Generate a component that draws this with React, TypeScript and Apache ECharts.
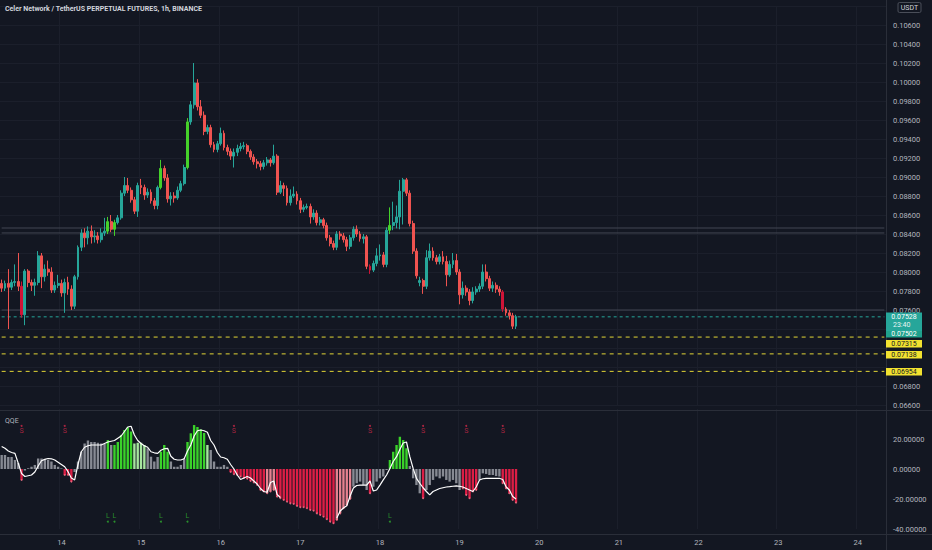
import React, { useEffect, useRef } from "react";
import * as echarts from "echarts";

// ---------- DATA ----------
// hourly candles starting 13th 06:00, [open, close, low, high]
const candles: [number, number, number, number][] = [
  [0.0788, 0.0783, 0.0779, 0.0792], [0.0783, 0.0788, 0.078, 0.0791], [0.0788, 0.0784, 0.074, 0.0803], [0.0784, 0.0789, 0.0781, 0.0792],
  [0.0789, 0.079, 0.0785, 0.0808], [0.079, 0.0785, 0.078, 0.082], [0.0785, 0.0755, 0.0752, 0.079], [0.0755, 0.0801, 0.0744, 0.0803],
  [0.0801, 0.0789, 0.0784, 0.0803], [0.0789, 0.0786, 0.078, 0.0792], [0.0786, 0.0789, 0.0775, 0.0793], [0.0789, 0.0817, 0.0786, 0.0822],
  [0.0817, 0.0795, 0.0783, 0.082], [0.0795, 0.0803, 0.079, 0.0808], [0.0803, 0.08, 0.0796, 0.0812], [0.08, 0.0781, 0.0778, 0.0805],
  [0.0781, 0.0786, 0.0778, 0.079], [0.0786, 0.0788, 0.0783, 0.0797], [0.0788, 0.0778, 0.0774, 0.0792], [0.0778, 0.0789, 0.0757, 0.0793],
  [0.0789, 0.0782, 0.0776, 0.0795], [0.0782, 0.0764, 0.076, 0.0786], [0.0764, 0.0795, 0.0761, 0.0797], [0.0795, 0.0826, 0.0792, 0.0828],
  [0.0826, 0.0841, 0.0822, 0.0845], [0.0841, 0.0836, 0.0826, 0.0846], [0.0836, 0.0843, 0.0829, 0.0848], [0.0843, 0.0837, 0.083, 0.0849],
  [0.0837, 0.0838, 0.0831, 0.0844], [0.0838, 0.0834, 0.083, 0.0842], [0.0834, 0.0841, 0.0831, 0.0846], [0.0841, 0.0843, 0.0838, 0.0857],
  [0.0843, 0.0853, 0.084, 0.0858], [0.0853, 0.0845, 0.0842, 0.086], [0.0845, 0.0852, 0.0838, 0.0855], [0.0852, 0.0857, 0.085, 0.086],
  [0.0857, 0.0883, 0.0855, 0.0886], [0.0883, 0.0891, 0.088, 0.09], [0.0891, 0.0886, 0.0883, 0.0899], [0.0886, 0.0876, 0.0873, 0.0889],
  [0.0876, 0.0864, 0.0861, 0.0879], [0.0864, 0.0891, 0.0858, 0.0894], [0.0891, 0.0889, 0.0882, 0.0898], [0.0889, 0.0881, 0.0876, 0.0892],
  [0.0881, 0.0884, 0.0878, 0.0888], [0.0884, 0.0875, 0.0872, 0.0887], [0.0875, 0.087, 0.0866, 0.0878], [0.087, 0.0889, 0.0866, 0.0891],
  [0.0889, 0.0909, 0.0887, 0.0918], [0.0909, 0.0899, 0.0896, 0.0912], [0.0899, 0.0877, 0.0873, 0.0903], [0.0877, 0.088, 0.087, 0.0884],
  [0.088, 0.0878, 0.0873, 0.0884], [0.0878, 0.0886, 0.0876, 0.089], [0.0886, 0.0893, 0.0884, 0.0896], [0.0893, 0.091, 0.0891, 0.0913],
  [0.091, 0.0958, 0.0908, 0.0962], [0.0958, 0.0976, 0.0955, 0.098], [0.0976, 0.0999, 0.0972, 0.102], [0.0999, 0.0974, 0.097, 0.1003],
  [0.0974, 0.0965, 0.0962, 0.0981], [0.0965, 0.0948, 0.0944, 0.0969], [0.0948, 0.0952, 0.0945, 0.0955], [0.0952, 0.0934, 0.0931, 0.0955],
  [0.0934, 0.0929, 0.0926, 0.0937], [0.0929, 0.0935, 0.0926, 0.0938], [0.0935, 0.0946, 0.0933, 0.0952], [0.0946, 0.0931, 0.0928, 0.0949],
  [0.0931, 0.0927, 0.0923, 0.0934], [0.0927, 0.0922, 0.0918, 0.093], [0.0922, 0.0926, 0.091, 0.093], [0.0926, 0.093, 0.0922, 0.0934],
  [0.093, 0.0932, 0.0927, 0.0936], [0.0932, 0.0933, 0.0929, 0.0937], [0.0933, 0.0927, 0.0924, 0.0935], [0.0927, 0.0921, 0.0918, 0.0929],
  [0.0921, 0.0916, 0.0913, 0.0924], [0.0916, 0.0914, 0.0909, 0.0919], [0.0914, 0.0911, 0.0907, 0.0917], [0.0911, 0.0915, 0.0908, 0.0918],
  [0.0915, 0.0918, 0.0912, 0.0921], [0.0918, 0.0915, 0.0911, 0.092], [0.0915, 0.0922, 0.0913, 0.0934], [0.0922, 0.0884, 0.0881, 0.0924],
  [0.0884, 0.0891, 0.0882, 0.0896], [0.0891, 0.0888, 0.088, 0.0894], [0.0888, 0.0873, 0.087, 0.0891], [0.0873, 0.088, 0.087, 0.0887],
  [0.088, 0.0882, 0.0878, 0.089], [0.0882, 0.0875, 0.0871, 0.0885], [0.0875, 0.0866, 0.0862, 0.0878], [0.0866, 0.0868, 0.0863, 0.0871],
  [0.0868, 0.0869, 0.0866, 0.0872], [0.0869, 0.0858, 0.0851, 0.0872], [0.0858, 0.0862, 0.0855, 0.0866], [0.0862, 0.0852, 0.0849, 0.0865],
  [0.0852, 0.0855, 0.0849, 0.0858], [0.0855, 0.0849, 0.0846, 0.0857], [0.0849, 0.0836, 0.0833, 0.0852], [0.0836, 0.083, 0.0827, 0.0839],
  [0.083, 0.0826, 0.0823, 0.0833], [0.0826, 0.084, 0.0823, 0.0843], [0.084, 0.0838, 0.0834, 0.0843], [0.0838, 0.0834, 0.0831, 0.0841],
  [0.0834, 0.0827, 0.0822, 0.0837], [0.0827, 0.0836, 0.0824, 0.0839], [0.0836, 0.0845, 0.0833, 0.0848], [0.0845, 0.084, 0.0837, 0.0849],
  [0.084, 0.0835, 0.0832, 0.0843], [0.0835, 0.0837, 0.083, 0.084], [0.0837, 0.0806, 0.0803, 0.0839], [0.0806, 0.0802, 0.0798, 0.0808],
  [0.0802, 0.0809, 0.08, 0.0812], [0.0809, 0.0817, 0.0806, 0.0825], [0.0817, 0.0818, 0.0812, 0.0829], [0.0818, 0.0808, 0.0805, 0.0821],
  [0.0808, 0.0844, 0.0805, 0.0847], [0.0844, 0.0849, 0.084, 0.0868], [0.0849, 0.0852, 0.0844, 0.0874], [0.0852, 0.0858, 0.0846, 0.087],
  [0.0858, 0.0885, 0.0845, 0.0897], [0.0885, 0.0897, 0.085, 0.0899], [0.0897, 0.0883, 0.088, 0.0899], [0.0883, 0.0851, 0.0848, 0.0886],
  [0.0851, 0.0822, 0.0819, 0.0854], [0.0822, 0.0796, 0.0793, 0.0825], [0.0789, 0.0791, 0.0785, 0.0795], [0.0791, 0.0785, 0.0777, 0.0793],
  [0.0785, 0.0815, 0.0782, 0.0823], [0.0815, 0.0822, 0.0812, 0.083], [0.0822, 0.0815, 0.0812, 0.0826], [0.0815, 0.0811, 0.0808, 0.0818],
  [0.0811, 0.0816, 0.0808, 0.0819], [0.0816, 0.0811, 0.0808, 0.0822], [0.0811, 0.0797, 0.0785, 0.0817], [0.0797, 0.0808, 0.0795, 0.0812],
  [0.0808, 0.0812, 0.0804, 0.082], [0.0812, 0.08, 0.0797, 0.0819], [0.08, 0.0776, 0.0766, 0.0803], [0.0776, 0.0783, 0.0772, 0.079],
  [0.0783, 0.0779, 0.0775, 0.0786], [0.0779, 0.077, 0.0765, 0.0782], [0.077, 0.0779, 0.0767, 0.0784], [0.0779, 0.0782, 0.0776, 0.0785],
  [0.0782, 0.0785, 0.0779, 0.0788], [0.0785, 0.08, 0.0782, 0.0808], [0.08, 0.0793, 0.079, 0.0808], [0.0793, 0.0783, 0.078, 0.0796],
  [0.0783, 0.0786, 0.0779, 0.079], [0.0786, 0.0782, 0.0778, 0.0789], [0.0782, 0.0779, 0.0775, 0.0785], [0.0779, 0.0761, 0.0758, 0.0781],
  [0.0761, 0.0757, 0.0754, 0.0763], [0.0757, 0.0754, 0.075, 0.076], [0.0754, 0.0743, 0.074, 0.0757], [0.0743, 0.0753, 0.074, 0.0755],
];
const signalUpBars = [32, 34, 48, 56, 117];
const signalDownBars = [6, 111, 151];

const qqeHist: number[] = [
  9.3, 9.3, 8, 8, 6, 4,
  -7.3,
  -1, 0.5, 1.5, 2.7, 7, 7, 6.4, 6, 5, 2.7, 1.5, 0.4,
  -4, -4, -8.4,
  -2, 5, 11.5, 17, 19, 18, 18, 17.5, 17, 16.7,
  19.3,
  16,
  16, 18, 22.7, 26, 27.8, 25,
  17, 17.5, 17.5, 16,
  13.8, 8.2, 5, 8,
  11.5, 16, 11.5,
  5, 1.5, 1.5, 2.7, 7,
  18, 23.8, 29.3, 28, 26.4, 24,
  16,
  12.7, 5, 1.5, 1.5, 2.7, 1.5,
  -2, -3.5, -4, -5, -6, -6.5, -8, -9, -10.7, -14, -15,
  -16.2, -15, -14,
  -18.4, -19.5, -20.7, -21.8, -22.9, -23.3, -24.7, -25.5, -25.5, -26.2, -27.3, -27.8, -29.6, -30.7, -31.8, -33.5, -35.1, -36.2,
  -34, -29.6, -26.2, -24, -20,
  -11.8, -9.5, -8.4, -10.7, -14,
  -16.2,
  -11.8, -8.4, -6.2, -5, -0.7,
  6, 11.5, 16, 21.5, 19.3, 13.8,
  2, -6.2, -10.7, -16.2,
  -19.5,
  -14, -10.7, -7.3, -5, -6.2, -5, -7.3, -8.4, -7.3, -9.5, -14,
  -12.9, -17.3, -19.5, -15, -14,
  -7.3, -2.9, -3.3, -4, -4, -4.7, -5,
  -9.5, -12.9, -16.2, -20.7, -22.4,
];
// g neutral, G strong up, l weak up, R strong down, p weak down
const qqeTone: string[] = [
  "gggggg", "R", "gggggggggggg", "RRR", "gggggggggg", "G", "g", "GGGGGG", "llll", "gggg", "GGG", "ggggg",
  "GGGGGG", "l", "gggggg", "RRRRRRRRRRR", "ppp", "RRRRRRRRRRRRRRRRRR", "ppppp", "ggggg", "R", "ggggg",
  "GGGGGG", "gggg", "R", "ggggggggggg", "RRRRR", "ggggggg", "RRRRR",
].join("").split("");

const qqeLine: (number | null)[] = [
  15, 13.8, 12, 11, 10.4, 3.8, -3, -5, -4.5, -4, -2, 2, 5.5, 6.4, 7, 6.8, 6, 4.5, 3, 1.5,
  -1.8, -6, -7.3, 3, 11.5, 14.5, 15.5, 16, 16, 16, 16, 17, 18, 18.5, 19, 20.5, 22, 25, 28, 28.5,
  22.7, 19, 17, 15.5, 14.5, 11.5, 10.8, 10.4, 12.5, 13.5, 13.8, 8.5, 6.5, 6, 6, 6.8, 12, 16, 22, 25.5,
  26, 25.5, 24.5, 19, 16, 11, 8, 7.5, 6.5, 3, 0, -4, -7, -6, -5, -6, -8, -10, -13, -15,
  -15.5, -9, -8, -17, -19, null, null, null, null, null, null, null, null, null, null, null, null, null, null, null,
  null, -32.7, -28, -26, -24.5, -18, -12.7, -11, -10.7, -10.7, -10.7, -8, -14.7, -14, -10.7, -7.3, -4, 0.4, 5, 8.2,
  13, 17.3, 18, 8.2, 0.4, -6.2, -9.5, -12.5, -15, -17.3, -15, -14, -13, -12.5, -12, -11.8, -11.5, -11.3, -11.5, -12,
  -13, -14, -15, -12, -7.3, -6.5, -6.2, -6.2, -6.2, -6.2, -6.2, -7, -11.8, -14, -18.4, -20,
];
const buySignals = [32, 34, 48, 56, 117];
const sellSignals = [6, 19, 70, 111, 127, 140, 151];

const lastPrice = 0.07528;
const targetLevels = [0.07315, 0.07138, 0.06954];
const greyLevels = [0.08463, 0.08411, 0.076];
// price-axis ticks that sit behind the label boxes on the right
const coveredTicks = ["0.10800", "0.07400", "0.07200", "0.07000"];

const START_DAY = 13;
const START_HOUR = 6;
const SLOTS = 267;
const hours: string[] = Array.from({ length: SLOTS }, (_, k) => {
  const h = START_HOUR + k;
  return `${START_DAY + Math.floor(h / 24)} ${String(h % 24).padStart(2, "0")}:00`;
});

// ---------- STYLE ----------
const BG = "#131722";
const GRIDC = "#1b1f2b";
const SEP = "#2a2e39";
const TXT = "#b2b5be";
const FONT = "Roboto";
const UP = "#26a69a";
const DOWN = "#ef5350";
const SIG_UP = "#45d12a";
const SIG_DOWN = "#d01437";
const toneColor: Record<string, string> = {
  g: "#878a93",
  G: "#3ad22a",
  l: "#a6e59e",
  R: "#dc1e45",
  p: "#e6818f",
};

const isDayStart = (_: number, v: string) => v.endsWith(" 00:00");

function levelSeries(level: number, color: string, type: any) {
  return {
    type: "line",
    xAxisIndex: 0,
    yAxisIndex: 0,
    data: [
      [hours[0], level],
      [hours[SLOTS - 1], level],
    ],
    showSymbol: false,
    silent: true,
    lineStyle: { color, type, width: 1 },
    z: 1,
  };
}

function buildOption(): any {
  const candleData = candles.map((c, i) => {
    if (signalUpBars.includes(i))
      return { value: c, itemStyle: { color: SIG_UP, color0: SIG_UP, borderColor: SIG_UP, borderColor0: SIG_UP } };
    if (signalDownBars.includes(i))
      return { value: c, itemStyle: { color: SIG_DOWN, color0: SIG_DOWN, borderColor: SIG_DOWN, borderColor0: SIG_DOWN } };
    return { value: c };
  });
  const histData = qqeHist.map((v, i) => ({ value: v, itemStyle: { color: toneColor[qqeTone[i]] } }));
  const dotData = qqeHist
    .map((v, i) => (qqeTone[i] === "R" || qqeTone[i] === "p" ? [i, v] : null))
    .filter((d) => d !== null);

  return {
    animation: false,
    backgroundColor: BG,
    grid: [
      { left: 0, right: 46, top: 6, height: 399 },
      { left: 0, right: 46, top: 409, height: 120 },
    ],
    xAxis: [
      {
        type: "category",
        gridIndex: 0,
        data: hours,
        boundaryGap: true,
        axisLine: { show: false },
        axisTick: { show: false },
        axisLabel: { show: false },
        splitLine: { show: true, interval: isDayStart, lineStyle: { color: GRIDC, width: 1 } },
      },
      {
        type: "category",
        gridIndex: 1,
        data: hours,
        boundaryGap: true,
        offset: 5,
        axisLine: { show: false },
        axisTick: { show: false },
        axisLabel: {
          interval: isDayStart,
          formatter: (v: string) => v.split(" ")[0],
          color: TXT,
          fontFamily: FONT,
          fontSize: 7.5,
          margin: 4,
        },
        splitLine: { show: true, interval: isDayStart, lineStyle: { color: GRIDC, width: 1 } },
      },
    ],
    yAxis: [
      {
        type: "value",
        gridIndex: 0,
        position: "right",
        min: 0.066,
        max: 0.108,
        interval: 0.002,
        axisLine: { show: false },
        axisTick: { show: false },
        axisLabel: {
          color: TXT,
          fontFamily: FONT,
          fontSize: 7.5,
          margin: 7,
          formatter: (v: number) => (coveredTicks.includes(v.toFixed(5)) ? "" : v.toFixed(5)),
        },
        splitLine: { show: true, lineStyle: { color: GRIDC, width: 1 } },
      },
      {
        type: "value",
        gridIndex: 1,
        position: "right",
        min: -40,
        max: 40,
        interval: 20,
        axisLine: { show: false },
        axisTick: { show: false },
        axisLabel: {
          color: TXT,
          fontFamily: FONT,
          fontSize: 7.5,
          margin: 7,
          formatter: (v: number) => (v === 40 ? "" : v.toFixed(5)),
        },
        splitLine: { show: false },
      },
    ],
    series: [
      ...greyLevels.map((y) => levelSeries(y, "#434753", "solid")),
      levelSeries(lastPrice, UP, [3, 3]),
      ...targetLevels.map((y) => levelSeries(y, "#e3d636", [4, 4])),
      {
        type: "candlestick",
        xAxisIndex: 0,
        yAxisIndex: 0,
        data: candleData,
        barWidth: 2.4,
        itemStyle: { color: UP, color0: DOWN, borderColor: UP, borderColor0: DOWN, borderWidth: 1 },
        z: 3,
      },
      {
        type: "bar",
        xAxisIndex: 1,
        yAxisIndex: 1,
        data: histData,
        barWidth: "72%",
        z: 2,
      },
      {
        type: "scatter",
        xAxisIndex: 1,
        yAxisIndex: 1,
        data: dotData,
        symbol: "circle",
        symbolSize: 1.8,
        itemStyle: { color: "#ff7a90" },
        z: 3,
        silent: true,
      },
      {
        type: "line",
        xAxisIndex: 1,
        yAxisIndex: 1,
        data: qqeLine,
        showSymbol: false,
        connectNulls: false,
        lineStyle: { color: "#ffffff", width: 1.2 },
        z: 4,
      },
      {
        type: "scatter",
        xAxisIndex: 1,
        yAxisIndex: 1,
        data: sellSignals.map((i) => [i, 28.7]),
        symbol: "circle",
        symbolSize: 2,
        itemStyle: { color: "#cc2848" },
        label: { show: true, position: "bottom", distance: 1, formatter: "S", color: "#cc2848", fontFamily: FONT, fontSize: 7 },
        z: 5,
      },
      {
        type: "scatter",
        xAxisIndex: 1,
        yAxisIndex: 1,
        data: buySignals.map((i) => [i, -35.1]),
        symbol: "circle",
        symbolSize: 2,
        itemStyle: { color: "#2fae2f" },
        label: { show: true, position: "top", distance: 1, formatter: "L", color: "#2fae2f", fontFamily: FONT, fontSize: 7 },
        z: 5,
      },
    ],
    graphic: [
      { type: "line", shape: { x1: 886.5, y1: 0, x2: 886.5, y2: 550 }, style: { stroke: SEP, lineWidth: 1 }, z: 10 },
      { type: "line", shape: { x1: 0, y1: 410.5, x2: 932, y2: 410.5 }, style: { stroke: SEP, lineWidth: 1 }, z: 10 },
      { type: "line", shape: { x1: 0, y1: 534.5, x2: 932, y2: 534.5 }, style: { stroke: SEP, lineWidth: 1 }, z: 10 },
      {
        type: "text",
        x: 5,
        y: 9,
        style: { text: "Celer Network / TetherUS PERPETUAL FUTURES, 1h, BINANCE", fill: "#d1d4dc", fontFamily: FONT, fontSize: 7, fontWeight: "bold", verticalAlign: "middle" },
        z: 10,
      },
      {
        type: "text",
        x: 5,
        y: 421,
        style: { text: "QQE", fill: TXT, fontFamily: FONT, fontSize: 7, verticalAlign: "middle" },
        z: 10,
      },
      { type: "rect", shape: { x: 898, y: 2.5, width: 23, height: 10, r: 1.5 }, style: { fill: BG, stroke: "#4a4e59", lineWidth: 1 }, z: 10 },
      { type: "text", x: 909.5, y: 8, style: { text: "USDT", fill: "#d1d4dc", fontFamily: FONT, fontSize: 7, align: "center", verticalAlign: "middle" }, z: 11 },
      // last price + countdown
      { type: "rect", shape: { x: 886, y: 312.5, width: 36, height: 19 }, style: { fill: "#26a69a" }, z: 10 },
      { type: "text", x: 904, y: 317, style: { text: "0.07528", fill: "#ffffff", fontFamily: FONT, fontSize: 7, align: "center", verticalAlign: "middle" }, z: 11 },
      { type: "text", x: 893, y: 325, style: { text: "23:40", fill: "#e8f5f3", fontFamily: FONT, fontSize: 7, align: "left", verticalAlign: "middle" }, z: 11 },
      { type: "rect", shape: { x: 886, y: 331, width: 36, height: 6.5 }, style: { fill: "#1fa08c" }, z: 10 },
      { type: "text", x: 904, y: 334.3, style: { text: "0.07502", fill: "#ffffff", fontFamily: FONT, fontSize: 7, align: "center", verticalAlign: "middle" }, z: 11 },
      // target level labels
      ...targetLevels.map((lvl, k) => {
        const ys = [340, 351, 368];
        return {
          type: "group",
          z: 10,
          children: [
            { type: "rect", shape: { x: 886, y: ys[k], width: 36, height: 7.5 }, style: { fill: "#f2e230" }, z: 10 },
            {
              type: "text",
              x: 904,
              y: ys[k] + 3.9,
              style: { text: lvl.toFixed(5), fill: "#131722", fontFamily: FONT, fontSize: 7, align: "center", verticalAlign: "middle" },
              z: 11,
            },
          ],
        };
      }),
    ],
  };
}

export default function App() {
  const ref = useRef<HTMLDivElement>(null);
  useEffect(() => {
    if (!ref.current) return;
    const chart = echarts.init(ref.current, null, { renderer: "svg" });
    chart.setOption(buildOption());
    return () => chart.dispose();
  }, []);
  return <div ref={ref} style={{ position: "absolute", left: 0, top: 0, width: 932, height: 550 }} />;
}
